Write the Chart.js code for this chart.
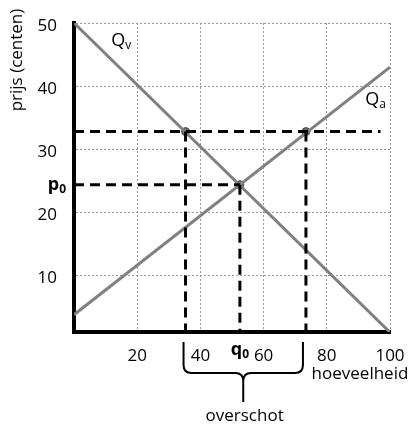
<!DOCTYPE html>
<html>
<head>
<meta charset="utf-8">
<script src="https://cdn.jsdelivr.net/npm/chart.js@4"></script>
<style>
  html, body { margin: 0; padding: 0; background: #fff; }
</style>
</head>
<body>
<canvas id="chart" width="408" height="425"></canvas>
<script>
// hoeveelheid (x-as) en prijs in centen (y-as)
const hoeveelheidRand = [0, 100];
const qvPrijs = [50, 1]; // vraaglijn Qv
const qaPrijs = [3.8, 43]; // aanbodlijn Qa
const evenwicht = [52.5, 24.4]; // q0, p0
const minimumPrijs = 32.8;
const overschotRand = [35.3, 73.4]; // gevraagd / aangeboden bij minimumprijs
const xTicks = [0, 20, 40, 60, 80, 100];
const yTicks = [10, 20, 30, 40, 50];
const yOnder = 1.06; // waarde op de x-as

const family = "'Open Sans', sans-serif";
const lijnKleur = "#808080";

const $chart = document.getElementById("chart").getContext("2d");

const dashed = {
  borderColor: "#000",
  borderWidth: 3,
  borderDash: [10, 6],
  pointRadius: 0,
  showLine: true,
  clip: false,
};

// tekst, accolade en labels rond de grafiek
const annotaties = {
  id: "annotaties",
  afterDatasetsDraw(chart) {
    const { ctx, chartArea } = chart;
    const sx = chart.scales.x;
    const sy = chart.scales.y;
    const px = (v) => sx.getPixelForValue(v);
    const py = (v) => sy.getPixelForValue(v);

    ctx.save();
    ctx.fillStyle = "#000";
    ctx.textBaseline = "middle";

    // letter met subscript
    const sub = (main, small, x, y, bold) => {
      ctx.font = (bold ? "bold " : "") + "18px " + family;
      ctx.textAlign = "left";
      ctx.fillText(main, x, y);
      const w = ctx.measureText(main).width;
      ctx.font = (bold ? "bold " : "") + "12px " + family;
      ctx.fillText(small, x + w, y + 5);
    };
    sub("Q", "v", px(11.8), py(47.2));
    sub("Q", "a", px(92.2), py(37.9));

    // p0 links van de y-as
    ctx.font = "bold 18px " + family;
    const wp = ctx.measureText("p").width;
    ctx.font = "bold 12px " + family;
    const w0 = ctx.measureText("0").width;
    sub("p", "0", chartArea.left - 8 - wp - w0, py(evenwicht[1]), true);

    // q0 onder de x-as
    ctx.font = "bold 18px " + family;
    const wq = ctx.measureText("q").width;
    sub("q", "0", px(evenwicht[0]) - (wq + w0) / 2, chartArea.bottom + 18, true);

    ctx.font = "17px " + family;
    ctx.textAlign = "center";
    ctx.fillText("hoeveelheid", px(90.5), chartArea.bottom + 42);
    ctx.fillText("overschot", px(54), chartArea.bottom + 84);

    // y-as titel
    ctx.save();
    ctx.translate(17, 60);
    ctx.rotate(-Math.PI / 2);
    ctx.fillText("prijs (centen)", 0, 0);
    ctx.restore();

    // accolade
    const xL = px(overschotRand[0]) - 2;
    const xR = px(overschotRand[1]) - 3;
    const mid = (xL + xR) / 2;
    const yTop = chartArea.bottom + 10;
    const yMid = chartArea.bottom + 41;
    const yTip = chartArea.bottom + 70;
    const r = 8;
    ctx.strokeStyle = "#000";
    ctx.lineWidth = 2;
    ctx.beginPath();
    ctx.moveTo(xL, yTop);
    ctx.lineTo(xL, yMid - r);
    ctx.quadraticCurveTo(xL, yMid, xL + r, yMid);
    ctx.lineTo(mid - r, yMid);
    ctx.quadraticCurveTo(mid, yMid, mid, yMid + r);
    ctx.lineTo(mid, yTip);
    ctx.moveTo(xR, yTop);
    ctx.lineTo(xR, yMid - r);
    ctx.quadraticCurveTo(xR, yMid, xR - r, yMid);
    ctx.lineTo(mid + r, yMid);
    ctx.quadraticCurveTo(mid, yMid, mid, yMid + r);
    ctx.stroke();
    ctx.restore();
  },
};

new Chart($chart, {
  type: "scatter",
  data: {
    datasets: [
      {
        label: "minimumprijs",
        data: [{ x: 0, y: minimumPrijs }, { x: 97, y: minimumPrijs }],
        ...dashed,
      },
      {
        label: "p0",
        data: [{ x: 0, y: evenwicht[1] }, { x: evenwicht[0], y: evenwicht[1] }],
        ...dashed,
      },
      {
        label: "q0",
        data: [{ x: evenwicht[0], y: evenwicht[1] }, { x: evenwicht[0], y: yOnder }],
        ...dashed,
      },
      {
        label: "gevraagd",
        data: [{ x: overschotRand[0], y: minimumPrijs }, { x: overschotRand[0], y: yOnder }],
        ...dashed,
      },
      {
        label: "aangeboden",
        data: [{ x: overschotRand[1], y: minimumPrijs }, { x: overschotRand[1], y: yOnder }],
        ...dashed,
      },
      {
        label: "Qv",
        data: hoeveelheidRand.map((x, i) => ({ x, y: qvPrijs[i] })),
        borderColor: lijnKleur,
        borderWidth: 3,
        showLine: true,
        pointRadius: 0,
      },
      {
        label: "Qa",
        data: hoeveelheidRand.map((x, i) => ({ x, y: qaPrijs[i] })),
        borderColor: lijnKleur,
        borderWidth: 3,
        showLine: true,
        pointRadius: 0,
      },
      {
        label: "snijpunten",
        data: [
          { x: overschotRand[0], y: minimumPrijs },
          { x: evenwicht[0], y: evenwicht[1] },
          { x: overschotRand[1], y: minimumPrijs },
        ],
        pointRadius: 4,
        backgroundColor: "#6a6a6a",
        borderColor: "#4a4a4a",
        borderWidth: 1,
        showLine: false,
      },
    ],
  },
  options: {
    responsive: false,
    animation: false,
    layout: { padding: { top: 23, right: 18, left: 0, bottom: 0 } },
    plugins: {
      legend: { display: false },
      tooltip: { enabled: false },
    },
    scales: {
      x: {
        type: "linear",
        min: 0,
        max: 100,
        afterBuildTicks: (s) => {
          s.ticks = xTicks.map((v) => ({ value: v }));
        },
        afterFit: (s) => {
          s.height = 93;
          s.paddingLeft = 0;
          s.paddingRight = 0;
        },
        grid: { color: "#999", drawTicks: false, lineWidth: 1 },
        border: { color: "#000", width: 4, dash: [2, 2] },
        ticks: {
          padding: 14,
          color: "#000",
          maxRotation: 0,
          font: { family, size: 17 },
          callback: (v) => (v === 0 ? "" : v),
        },
      },
      y: {
        type: "linear",
        min: yOnder,
        max: 50,
        afterBuildTicks: (s) => {
          s.ticks = yTicks.map((v) => ({ value: v }));
        },
        afterFit: (s) => {
          s.width = 74;
          s.paddingTop = 0;
          s.paddingBottom = 0;
        },
        grid: { color: "#999", drawTicks: false, lineWidth: 1 },
        border: { color: "#000", width: 4, dash: [2, 2] },
        ticks: {
          padding: 17,
          labelOffset: 3,
          color: "#000",
          font: { family, size: 17 },
        },
      },
    },
  },
  plugins: [annotaties],
});
</script>
</body>
</html>
